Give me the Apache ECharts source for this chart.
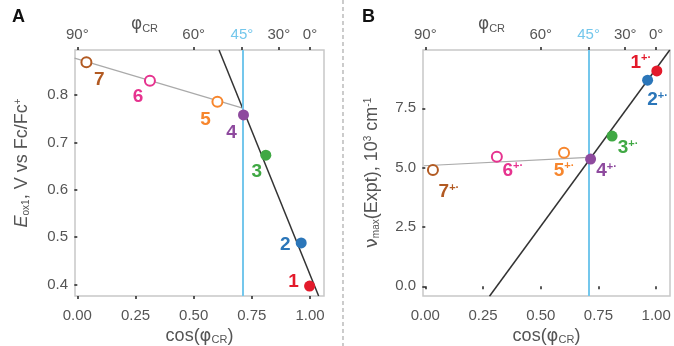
<!DOCTYPE html>
<html>
<head>
<meta charset="utf-8">
<script src="https://cdn.jsdelivr.net/npm/echarts@6/dist/echarts.min.js"></script>
<style>
  html, body { margin: 0; padding: 0; background: #fff; }
  #chart { width: 674px; height: 346px; }
</style>
</head>
<body>
<div id="chart"></div>
<script>
// compound labels and colours (1..7)
var labels = ['1', '2', '3', '4', '5', '6', '7'];
var colors = ['#e31a2b', '#2b76b9', '#3fa843', '#8e4a9e', '#f7862d', '#e6338f', '#b25a22'];
var filled = [true, true, true, true, false, false, false];

// panel A: cos(phi_CR) and E_ox1
var cosA = [0.998, 0.962, 0.810, 0.714, 0.602, 0.312, 0.039];
var eox = [0.397, 0.488, 0.673, 0.758, 0.786, 0.830, 0.869];
var fitSteepA = [[0.609, 0.895], [1.037, 0.376]];
var fitFlatA = [[-0.012, 0.878], [0.707, 0.773]];

// panel B: cos(phi_CR) and nu_max
var cosB = [1.003, 0.963, 0.809, 0.716, 0.601, 0.310, 0.033];
var numax = [9.08, 8.69, 6.33, 5.36, 5.63, 5.46, 4.90];
var fitSteepB = [[0.278, -0.42], [1.059, 9.96]];
var fitFlatB = [[-0.006, 5.08], [0.707, 5.43]];

// ticks
var cosTicks = [0, 0.25, 0.5, 0.75, 1];
var phiTicks = [0, 0.5, Math.SQRT1_2, 0.866, 1];
var phiLabels = ['90°', '60°', '45°', '30°', '0°'];
var yTicksA = [0.4, 0.5, 0.6, 0.7, 0.8];
var yTicksB = [0, 2.5, 5, 7.5];

var font = 'Liberation Sans, Arial, sans-serif';
var gray = '#555';
var cyan = '#74c7ec';

// label offsets (A then B) so numbers sit where the paper put them
var offA = [[-16, -4], [-16, 2], [-9, 17], [-12, 18], [-12, 18], [-12, 16], [13, 17]];
var offB = [[-16, -8], [10, 20], [16, 12], [16, 12], [0, 18], [16, 14], [16, 22]];

function phiIdx(v) {
  for (var i = 0; i < phiTicks.length; i++) {
    if (Math.abs(phiTicks[i] - v) < 1e-3) return i;
  }
  return -1;
}

var tickStyle = { color: '#222', width: 1.5 };

function bottomX(gi) {
  return {
    gridIndex: gi, type: 'value', position: 'bottom', min: -0.01, max: 1.06,
    splitLine: { show: false }, axisLine: { show: false },
    axisTick: { show: true, customValues: cosTicks, length: 3, lineStyle: tickStyle },
    axisLabel: { customValues: cosTicks, color: gray, fontSize: 15, fontFamily: font, margin: 12,
      formatter: function (v) { return v.toFixed(2); } },
    name: '{t|cos(}{p|φ}{s|CR}{t|)}', nameLocation: 'middle', nameGap: 31, nameMoveOverlap: false,
    nameTextStyle: { rich: {
      t: { fontSize: 18, color: gray, fontFamily: font },
      p: { fontSize: 18, color: gray, fontFamily: 'DejaVu Sans' },
      s: { fontSize: 11, color: gray, fontFamily: font, verticalAlign: 'bottom', padding: [7, 0, 0, 0] }
    } }
  };
}

function topX(gi) {
  return {
    gridIndex: gi, type: 'value', position: 'top', min: -0.01, max: 1.06,
    splitLine: { show: false }, axisLine: { show: false },
    axisTick: { show: true, customValues: phiTicks, length: 3, lineStyle: tickStyle },
    axisLabel: { customValues: phiTicks, fontSize: 15, fontFamily: font, margin: 8,
      color: function (v) { return phiIdx(v) === 2 ? cyan : gray; },
      formatter: function (v) { return phiLabels[phiIdx(v)]; } },
    name: '{p|φ}{s|CR}', nameLocation: 'middle', nameGap: 16, nameMoveOverlap: false,
    nameTextStyle: { padding: [0, 110, 0, 0], rich: {
      p: { fontSize: 17, color: gray, fontFamily: 'DejaVu Sans' },
      s: { fontSize: 11, color: gray, fontFamily: font, verticalAlign: 'bottom', padding: [7, 0, 0, 0] }
    } }
  };
}

function leftY(gi, min, max, ticks, name, gap, pad) {
  return {
    gridIndex: gi, type: 'value', min: min, max: max,
    splitLine: { show: false }, axisLine: { show: false },
    axisTick: { show: true, customValues: ticks, length: 3, lineStyle: tickStyle },
    axisLabel: { customValues: ticks, color: gray, fontSize: 15, fontFamily: font, margin: 7,
      formatter: function (v) { return v.toFixed(1); } },
    name: name, nameLocation: 'middle', nameGap: gap, nameMoveOverlap: false,
    nameTextStyle: { padding: pad, rich: {
      t: { fontSize: 18, color: gray, fontFamily: font },
      i: { fontSize: 18, color: gray, fontFamily: font, fontStyle: 'italic' },
      g: { fontSize: 18, color: gray, fontFamily: 'DejaVu Sans' },
      s: { fontSize: 10, color: gray, fontFamily: font, verticalAlign: 'bottom', padding: [7, 0, 0, 0] },
      u: { fontSize: 10, color: gray, fontFamily: font, verticalAlign: 'top', padding: [0, 0, 7, 0] }
    } }
  };
}

function pointSeries(xi, yi, xs, ys, offs, sup) {
  var data = xs.map(function (x, i) {
    return {
      value: [x, ys[i]],
      itemStyle: filled[i]
        ? { color: colors[i], borderWidth: 0, opacity: 1 }
        : { color: '#fff', borderColor: colors[i], borderWidth: 2, opacity: 1 },
      symbolSize: filled[i] ? 11 : 10,
      label: {
        show: true, position: 'inside', offset: offs[i],
        formatter: sup ? '{n|' + labels[i] + '}{u|+·}' : '{n|' + labels[i] + '}',
        rich: {
          n: { fontSize: 19, fontWeight: 'bold', color: colors[i], fontFamily: font },
          u: { fontSize: 11, fontWeight: 'bold', color: colors[i], fontFamily: font, verticalAlign: 'top', padding: [0, 0, 9, 0] }
        }
      }
    };
  });
  return { type: 'scatter', xAxisIndex: xi, yAxisIndex: yi, data: data, z: 5,
    itemStyle: { opacity: 1 } };
}

function fitLine(xi, yi, pts, color, w) {
  return { type: 'line', xAxisIndex: xi, yAxisIndex: yi, data: pts, symbol: 'none',
    lineStyle: { color: color, width: w }, z: 3, silent: true };
}

function vLine(xi, yi) {
  return { type: 'line', xAxisIndex: xi, yAxisIndex: yi, data: [], z: 2,
    markLine: { silent: true, symbol: 'none', label: { show: false },
      lineStyle: { color: cyan, width: 2, type: 'solid' },
      data: [{ xAxis: Math.SQRT1_2 }] } };
}

var chart = echarts.init(document.getElementById('chart'), null, { renderer: 'canvas' });
chart.setOption({
  backgroundColor: '#fff',
  animation: false,
  grid: [
    { left: 75, right: 350, top: 50, bottom: 50, show: true, borderColor: '#c8c8c8', borderWidth: 1.5,
      backgroundColor: '#fff', outerBoundsMode: 'none', containLabel: false },
    { left: 423, right: 4, top: 50, bottom: 50, show: true, borderColor: '#c8c8c8', borderWidth: 1.5,
      backgroundColor: '#fff', outerBoundsMode: 'none', containLabel: false }
  ],
  xAxis: [bottomX(0), topX(0), bottomX(1), topX(1)],
  yAxis: [
    leftY(0, 0.376, 0.895, yTicksA, '{i|E}{s|ox1}{t|, V vs Fc/Fc}{u|+}', 44, [0, 0, 0, 20]),
    leftY(1, -0.41, 9.96, yTicksB, '{g|ν}{s|max}{t|(Expt), 10}{u|3}{t| cm}{u|-1}', 42, [0, 0, 0, 0])
  ],
  graphic: [
    { type: 'line', shape: { x1: 343, y1: 0, x2: 343, y2: 346 }, style: { stroke: '#aaa', lineWidth: 1.2, lineDash: [4, 3] } },
    { type: 'text', left: 12, top: 8, style: { text: 'A', fontSize: 18, fontWeight: 'bold', fill: '#111', fontFamily: font } },
    { type: 'text', left: 362, top: 8, style: { text: 'B', fontSize: 18, fontWeight: 'bold', fill: '#111', fontFamily: font } }
  ],
  series: [
    vLine(0, 0),
    fitLine(0, 0, fitFlatA, '#aaa', 1.2),
    fitLine(0, 0, fitSteepA, '#333', 1.5),
    pointSeries(0, 0, cosA, eox, offA, false),
    vLine(2, 1),
    fitLine(2, 1, fitFlatB, '#aaa', 1.2),
    fitLine(2, 1, fitSteepB, '#333', 1.5),
    pointSeries(2, 1, cosB, numax, offB, true)
  ]
});
</script>
</body>
</html>
